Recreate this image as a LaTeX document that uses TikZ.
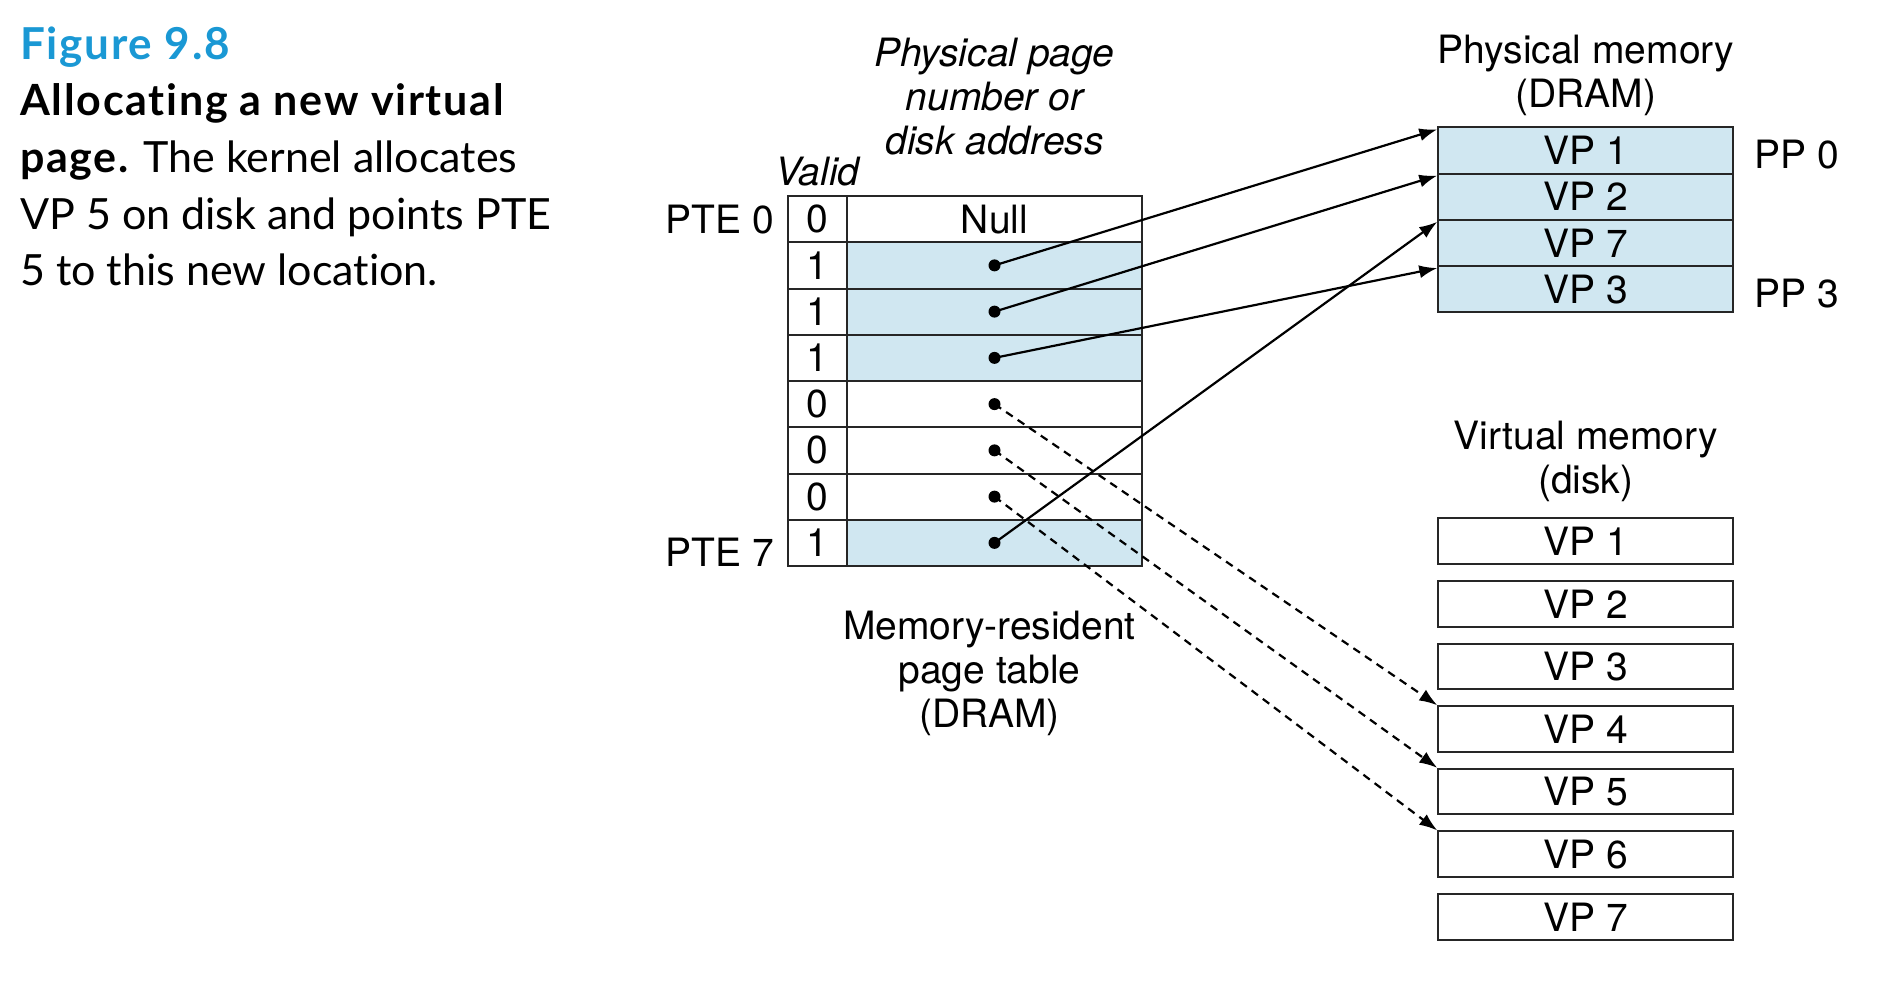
\documentclass[tikz,border=0pt]{standalone}
\usepackage{fontspec}
\setmainfont{TeX Gyre Heros}
\newfontfamily\capfont{Lato}[Ligatures=NoCommon,BoldFeatures={LetterSpace=4}]
\usetikzlibrary{positioning,arrows.meta}
\definecolor{pteblue}{RGB}{208,231,241}
\definecolor{figblue}{RGB}{26,152,212}
\begin{document}
\begin{tikzpicture}[x=1pt,y=-1pt,
    lbl/.style={inner sep=2pt,font=\fontsize{39}{44}\selectfont},
    captext/.style={anchor=base west,inner sep=0pt,font=\capfont\fontsize{43}{50}\selectfont},
    cell/.style={draw=black!85,line width=2pt,inner sep=0pt,minimum height=46.25pt,font=\fontsize{39}{44}\selectfont},
    mem/.style={cell,minimum width=295pt},
    ptr/.style={line width=2.2pt,-{Latex[length=18pt,width=13pt]}},
    dptr/.style={ptr,dash pattern=on 8pt off 6pt}]
    \useasboundingbox (0,0) rectangle (1886,984);
    % caption
    \node[captext,font=\capfont\bfseries\fontsize{44}{50}\selectfont,text=figblue] (figno) at (20,60) {Figure 9.8};
    \foreach \y/\t [count=\k] in {116/{\bfseries Allocating a new virtual},
        173/{{\bfseries page.} The kernel allocates},
        229.5/{VP 5 on disk and points PTE},
        285.5/{5 to this new location.}}
        \node[captext] (cap\k) at (20,\y) {\t};
    % page table
    \node[cell,minimum width=59.6pt] (v0) at (817.5,219.1) {0};
    \node[cell,minimum width=294.4pt] (a0) at (994.5,219.1) {Null};
    \foreach \i/\v/\f in {1/1/pteblue,2/1/pteblue,3/1/pteblue,4/0/white,5/0/white,6/0/white,7/1/pteblue} {
        \node[cell,minimum width=59.6pt] (v\i) at (817.5,{196+46.25*(\i+0.5)}) {\v};
        \node[cell,fill=\f,minimum width=294.4pt] (a\i) at (994.5,{196+46.25*(\i+0.5)}) {};
        \fill (a\i.center) circle (6pt);
    }
    \node[lbl,left=10.7pt of v0] (pte0) {PTE 0};
    \node[lbl,left=10.7pt of v7,yshift=-9pt] (pte7) {PTE 7};
    \node[lbl,above=7pt of v0,font=\itshape\fontsize{39}{44}\selectfont] (valid) {Valid};
    \node[lbl,above=38pt of a0,align=center,font=\itshape\fontsize{39}{44}\selectfont] (ppn) {Physical page\\number or\\disk address};
    \node[lbl,below=42pt of a7,xshift=-5pt,align=center] (ptname) {Memory-resident\\page table\\(DRAM)};
    % physical memory
    \foreach \i/\t in {0/VP 1,1/VP 2,2/VP 7,3/VP 3}
        \node[mem,fill=pteblue] (pp\i) at (1585.8,{127.3+46.25*(\i+0.5)}) {\t};
    \node[lbl,above=8pt of pp0,align=center] (dram) {Physical memory\\(DRAM)};
    \node[lbl,right=17.7pt of pp0,yshift=-4pt] (pp0lbl) {PP 0};
    \node[lbl,right=17.7pt of pp3,yshift=-4pt] (pp3lbl) {PP 3};
    % virtual memory on disk
    \foreach \i in {1,...,7}
        \node[mem,minimum height=45.5pt] (vp\i) at (1585.8,{541.2+62.6*(\i-1)}) {VP \i};
    \node[lbl,above=13pt of vp1,align=center] (disk) {Virtual memory\\(disk)};
    % pointers
    \draw[ptr] (a1.center) -- ([yshift=-3pt]pp0.north west);
    \draw[ptr] (a2.center) -- ([yshift=-3pt]pp1.north west);
    \draw[ptr] (a3.center) -- ([yshift=-3pt]pp3.north west);
    \draw[ptr] (a7.center) -- ([yshift=-3pt]pp2.north west);
    \draw[dptr] (a4.center) -- (vp4.north west);
    \draw[dptr] (a5.center) -- (vp5.north west);
    \draw[dptr] (a6.center) -- (vp6.north west);
\end{tikzpicture}
\end{document}
